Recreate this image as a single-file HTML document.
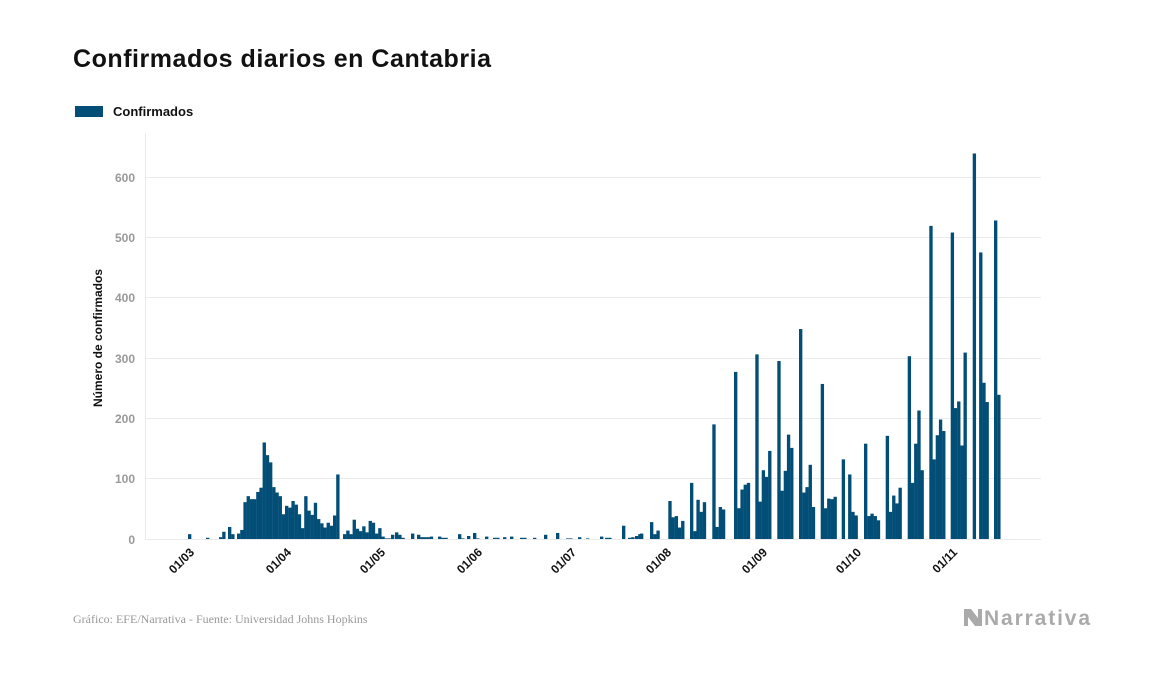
<!DOCTYPE html>
<html><head><meta charset="utf-8"><style>
html,body{margin:0;padding:0;background:#fff;}
svg{display:block;font-family:"Liberation Sans",sans-serif;}
</style></head><body>
<svg id="s" width="1157" height="674" viewBox="0 0 1157 674" xmlns="http://www.w3.org/2000/svg">
<text x="73" y="67" font-size="25" font-weight="bold" fill="#111" textLength="418" lengthAdjust="spacing">Confirmados diarios en Cantabria</text>
<rect x="75" y="106" width="28" height="11" fill="#024e77"/>
<text x="113" y="116" font-size="13" font-weight="bold" fill="#111">Confirmados</text>
<g stroke="#ebebeb" stroke-width="1">
<line x1="145" x2="1041" y1="478.5" y2="478.5"/>
<line x1="145" x2="1041" y1="418.5" y2="418.5"/>
<line x1="145" x2="1041" y1="358.5" y2="358.5"/>
<line x1="145" x2="1041" y1="297.5" y2="297.5"/>
<line x1="145" x2="1041" y1="237.5" y2="237.5"/>
<line x1="145" x2="1041" y1="177.5" y2="177.5"/>
<line x1="145" x2="1041" y1="539.5" y2="539.5"/>
<line x1="145.5" x2="145.5" y1="133" y2="539"/>
</g>
<g font-size="12" font-weight="bold" fill="#999" text-anchor="end">
<text x="135" y="544">0</text>
<text x="135" y="483">100</text>
<text x="135" y="423">200</text>
<text x="135" y="363">300</text>
<text x="135" y="302">400</text>
<text x="135" y="242">500</text>
<text x="135" y="182">600</text>
</g>
<text transform="translate(102,338) rotate(-90)" text-anchor="middle" font-size="12" font-weight="bold" fill="#111">Número de confirmados</text>
<g id="bars" fill="#024e77"></g>
<g font-size="12" font-weight="bold" fill="#111" text-anchor="end">
<text transform="translate(195,553) rotate(-45)">01/03</text>
<text transform="translate(292,553) rotate(-45)">01/04</text>
<text transform="translate(386,553) rotate(-45)">01/05</text>
<text transform="translate(483,553) rotate(-45)">01/06</text>
<text transform="translate(577,553) rotate(-45)">01/07</text>
<text transform="translate(672,553) rotate(-45)">01/08</text>
<text transform="translate(768,553) rotate(-45)">01/09</text>
<text transform="translate(862,553) rotate(-45)">01/10</text>
<text transform="translate(958,553) rotate(-45)">01/11</text>
</g>
<text x="73" y="623" font-family="Liberation Serif,serif" font-size="12" fill="#999">Gráfico: EFE/Narrativa - Fuente: Universidad Johns Hopkins</text>
<path d="M964 609 L971 609 L978 618 L978 609 L982 609 L982 626 L975 626 L968 617 L968 626 L964 626 Z" fill="#aaa"/>
<text x="984" y="625" font-size="21" font-weight="bold" fill="#aaa" textLength="106" lengthAdjust="spacing">Narrativa</text>
</svg>
<script>
var groups=[
[188,[8]],[206,[2]],[219,[3,12]],[228,[20,8]],
[237,[9,15,61,71,66,66,78,85,160,139,127,86,77,71,41,55,52,63,57,41,18,71,47,40,60,33,26,19,27,22,39,107]],
[343,[8,14,8,32,17,13,21,11,30,27,9,18,4,1,1,7]],
[395,[11,7,2]],[411,[9]],[417,[7,3,3,3,4]],[438,[4,2,2]],[458,[8,1]],[467,[5]],[473,[10,1]],
[485,[4]],[493,[2,2]],[503,[3]],[510,[4]],[520,[2,2]],[533,[2]],[544,[7]],[556,[10]],[566,[1,1]],
[578,[3]],[586,[1]],[600,[4]],[605,[2,2]],[622,[22]],[628,[2,3]],[635,[5,8]],
[640,[9]],[650,[28,8,14]],
[668.3,[63,36,38,19,30]],[690,[93,13,65,45,61]],[712.3,[190,20,53,49]],
[734,[277,51,82,90,93]],[755.3,[306,62,114,103,146]],[777.3,[295,80,113,173,151]],
[799,[348,77,86,123,53]],[820.7,[257,51,67,66,70]],[841.7,[132,0,107,45,39]],
[864,[158,38,42,38,31]],[885.7,[171,45,72,59,85]],[907.7,[303,93,158,213,114]],
[929.3,[519,132,172,198,179]],[950.7,[508,217,228,155,309]],[972.7,[639,0,475,259,227]],
[994,[528,239]]];
var g=document.getElementById('bars'),ns='http://www.w3.org/2000/svg',step=3.2;
groups.forEach(function(gr){gr[1].forEach(function(v,i){if(v<=0)return;var h=v*0.6033;
var r=document.createElementNS(ns,'rect');r.setAttribute('x',gr[0]+i*step);r.setAttribute('width',step+0.15);
r.setAttribute('y',539-h);r.setAttribute('height',h);g.appendChild(r);});});
</script>
</body></html>
